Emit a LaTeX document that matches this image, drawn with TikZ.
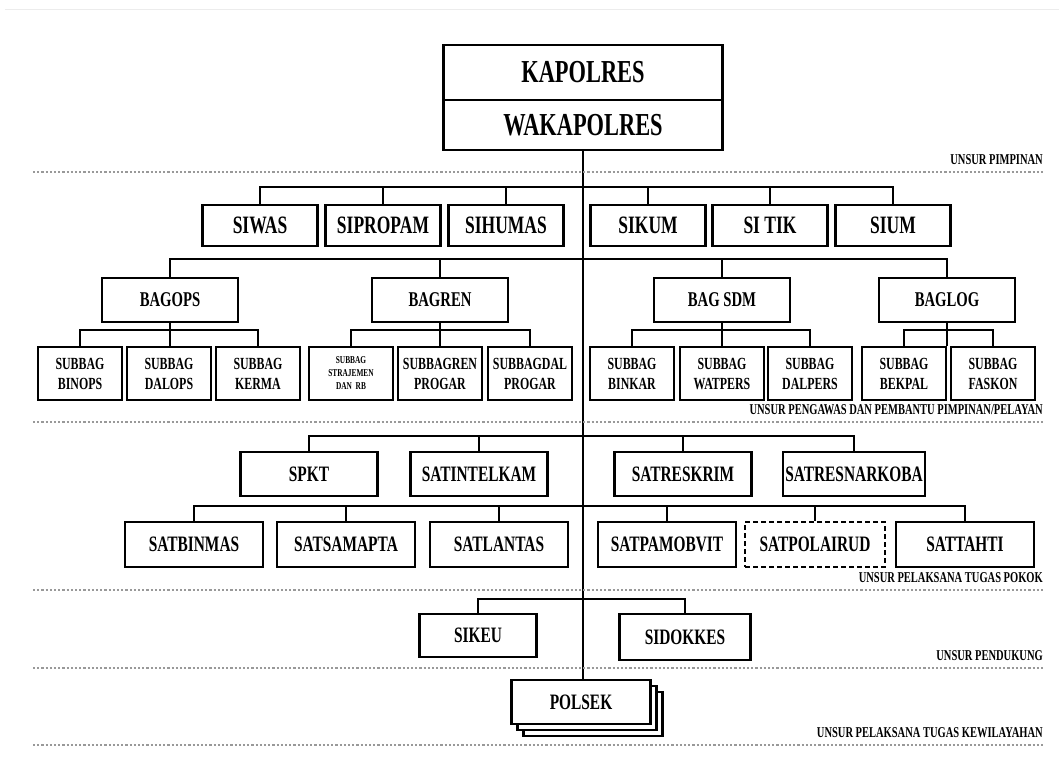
\documentclass[tikz,border=0pt]{standalone}
\usepackage{fontspec}
\setmainfont{Liberation Serif}[FakeStretch=0.7]
\usetikzlibrary{positioning}

\tikzset{
  unit/.style={draw,line width=2.4pt,fill=white,inner sep=1pt,align=center,
    font=\bfseries\fontsize{22}{24}\selectfont},
  subunit/.style={unit,minimum width=84,minimum height=53,
    font=\bfseries\fontsize{17}{20}\selectfont},
  link/.style={line width=2.4pt},
  sep/.style={gray!80,dotted,line width=2.2pt},
  sepLabel/.style={anchor=south east,inner sep=2pt,
    font=\bfseries\fontsize{15}{15}\selectfont}
}

\begin{document}
\begin{tikzpicture}[x=1pt,y=-1pt]
\useasboundingbox (0,0) rectangle (1059,765);
\draw[gray!15,line width=1pt] (5,10)--(1059,10);

% Pimpinan
\node[unit,minimum width=279,minimum height=55,font=\bfseries\fontsize{32}{34}\selectfont] (kapolres) at (583,72.5){KAPOLRES};
\node[unit,minimum width=279,minimum height=50,font=\bfseries\fontsize{32}{34}\selectfont,below=0pt of kapolres,yshift=2.4pt] (wakapolres){WAKAPOLRES};

% Row 1: staff sections
\foreach \n/\x/\lab in {siwas/260/SIWAS,sipropam/383/SIPROPAM,sihumas/506/SIHUMAS,
                        sikum/648/SIKUM,sitik/770/SI TIK,sium/893/SIUM}{
  \node[unit,minimum width=115,minimum height=41,font=\bfseries\fontsize{25}{27}\selectfont] (\n) at (\x,225.5){\lab};
}
\draw[link] (siwas.north)--++(0,-17) -| (sium.north);
\foreach \n in {sipropam,sihumas,sikum,sitik}{
  \draw[link] (\n.north)--++(0,-17);
}

% Row 2: bagian
\foreach \n/\x/\lab in {bagops/170/BAGOPS,bagren/440/BAGREN,bagsdm/722/BAG SDM,baglog/947/BAGLOG}{
  \node[unit,minimum width=136,minimum height=44,font=\bfseries\fontsize{21}{23}\selectfont] (\n) at (\x,300){\lab};
}
\draw[link] (bagops.north)--++(0,-18) -| (baglog.north);
\foreach \n in {bagren,bagsdm}{
  \draw[link] (\n.north)--++(0,-18);
}

% Subbag under each bagian
\foreach \n/\x/\lab in {binops/80/{SUBBAG\\BINOPS},dalops/169/{SUBBAG\\DALOPS},kerma/258/{SUBBAG\\KERMA},
                        progar/440/{SUBBAGREN\\PROGAR},dalprogar/530/{SUBBAGDAL\\PROGAR},
                        binkar/632/{SUBBAG\\BINKAR},watpers/722/{SUBBAG\\WATPERS},dalpers/810/{SUBBAG\\DALPERS},
                        bekpal/904/{SUBBAG\\BEKPAL},faskon/993/{SUBBAG\\FASKON}}{
  \node[subunit] (\n) at (\x,373.5){\lab};
}
\node[subunit,font=\bfseries\fontsize{10.5}{13}\selectfont] (strajemen) at (351,373.5){SUBBAG\\STRAJEMEN\\DAN~~RB};

\draw[link] (binops.north)--++(0,-16) -| (kerma.north);
\draw[link] (bagops.south)--(bagops.south |- binops.north);
\draw[link] (strajemen.north)--++(0,-16) -| (dalprogar.north);
\draw[link] (bagren.south)--(progar.north);
\draw[link] (binkar.north)--++(0,-16) -| (dalpers.north);
\draw[link] (bagsdm.south)--(watpers.north);
\draw[link] (bekpal.north)--++(0,-16) -| (faskon.north);
\draw[link] (baglog.south)--(baglog.south |- bekpal.north);

% Row 3 and 4: satuan
\foreach \n/\x/\w/\lab in {spkt/309/137/SPKT,satintelkam/479/137/SATINTELKAM,
                           satreskrim/683/137/SATRESKRIM,satresnarkoba/854/142/SATRESNARKOBA}{
  \node[unit,minimum width=\w,minimum height=44] (\n) at (\x,474){\lab};
}
\draw[link] (spkt.north)--++(0,-15) -| (satresnarkoba.north);
\foreach \n in {satintelkam,satreskrim}{
  \draw[link] (\n.north)--++(0,-15);
}

\foreach \n/\x/\lab in {satbinmas/194/SATBINMAS,satsamapta/346/SATSAMAPTA,satlantas/499/SATLANTAS,
                        satpamobvit/667/SATPAMOBVIT,sattahti/965/SATTAHTI}{
  \node[unit,minimum width=138,minimum height=45] (\n) at (\x,544.5){\lab};
}
\node[unit,dash pattern=on 5pt off 3pt,minimum width=140,minimum height=45] (satpolairud) at (815,544.5){SATPOLAIRUD};
\draw[link] (satbinmas.north)--++(0,-15) -| (sattahti.north);
\foreach \n in {satsamapta,satlantas,satpamobvit,satpolairud}{
  \draw[link] (\n.north)--++(0,-15);
}

% Pendukung
\node[unit,minimum width=117,minimum height=43] (sikeu) at (478,635.5){SIKEU};
\node[unit,minimum width=131,minimum height=46] (sidokkes) at (685,637){SIDOKKES};
\draw[link] (sikeu.north)--++(0,-14) -| (sidokkes.north);

% Polsek (stacked)
\node[unit,minimum width=139,minimum height=44] (polsekC) at (593,714){};
\node[unit,minimum width=139,minimum height=44] (polsekB) at (587,708){};
\node[unit,minimum width=139,minimum height=44] (polsek) at (581,702){POLSEK};

% trunk
\draw[link] (wakapolres.south)--(wakapolres.south |- polsek.north);

% Separators and their labels
\foreach \y/\lab/\n in {172/{UNSUR PIMPINAN}/pimpinanLabel,
                        422/{UNSUR PENGAWAS DAN PEMBANTU PIMPINAN/PELAYAN}/pengawasLabel,
                        590/{UNSUR PELAKSANA TUGAS POKOK}/pokokLabel,
                        668/{UNSUR PENDUKUNG}/pendukungLabel,
                        745/{UNSUR PELAKSANA TUGAS KEWILAYAHAN}/wilayahLabel}{
  \coordinate (\n L) at (33,\y);
  \coordinate (\n R) at (1045,\y);
  \draw[sep] (\n L)--(\n R);
  \node[sepLabel] (\n) at ([yshift=5pt]\n R){\lab};
}
\end{tikzpicture}
\end{document}
